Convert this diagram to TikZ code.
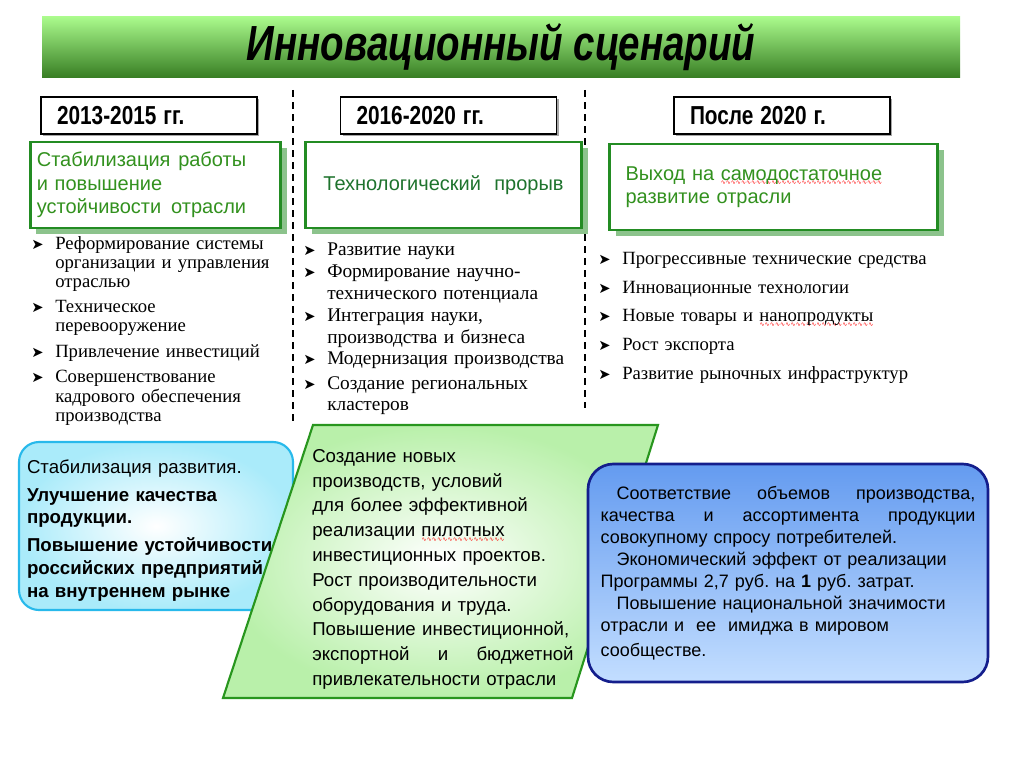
\documentclass[tikz,border=0pt]{standalone}
\usepackage{fontspec}
\setmainfont{Liberation Serif}
\setsansfont{Liberation Sans}
\newfontfamily\symbfont{DejaVu Sans}
\usepackage{graphicx}
\usetikzlibrary{positioning, shadows}

\definecolor{titletop}{RGB}{170,250,140}
\definecolor{titlebot}{RGB}{55,125,35}
\definecolor{headgreen}{RGB}{35,140,35}
\definecolor{headtext}{RGB}{50,145,30}
\definecolor{headdark}{RGB}{30,115,45}
\definecolor{headshadow}{RGB}{140,195,140}
\definecolor{cyanline}{RGB}{40,185,235}
\definecolor{cyanfill}{RGB}{170,235,250}
\definecolor{paraline}{RGB}{40,150,30}
\definecolor{parafill}{RGB}{185,240,170}
\definecolor{blueline}{RGB}{20,30,140}
\definecolor{bluetop}{RGB}{100,155,240}
\definecolor{bluebot}{RGB}{195,222,255}

\frenchspacing
\newcommand{\bul}{\makebox[18pt][l]{\symbfont\fontsize{11}{11}\selectfont ➤}}
\newcommand{\itm}[1]{\bul\parbox[t]{\dimexpr\hsize-18pt\relax}{\raggedright #1}}
\newcommand{\spell}[1]{\setbox0=\hbox{#1}\rlap{\raisebox{-3.4pt}[0pt][0pt]{\hbox to \wd0{\color{red}%
  \symbfont\fontsize{4.5}{4.5}\selectfont\xleaders\hbox{∿}\hfill}}}\box0}

\begin{document}
\begin{tikzpicture}[x=0.75pt, y=-0.75pt,
    titlebar/.style={minimum width=688.5pt, minimum height=45.75pt, inner sep=0pt,
      top color=titletop, bottom color=titlebot, font=\sffamily\bfseries\itshape\fontsize{37}{37}\selectfont},
    yearbox/.style={draw, line width=1pt, fill=white, minimum height=27.75pt, text width=138pt,
      inner xsep=12pt, align=left, font=\sffamily\bfseries\fontsize{19.5}{19.5}\selectfont,
      general shadow={fill=black!35, shadow xshift=1.5pt, shadow yshift=-1.5pt}},
    headbox/.style={draw=headgreen, line width=2.2pt, fill=white, minimum height=64.5pt,
      inner xsep=5pt, align=left, text=headtext, font=\sffamily\fontsize{15}{17.6}\selectfont,
      general shadow={fill=headshadow, shadow xshift=4.5pt, shadow yshift=-4.5pt}},
    sep/.style={line width=0.8pt, dash pattern=on 5pt off 4pt},
    itemA/.style={anchor=north west, inner sep=0pt, text width=200pt, align=left,
      font=\fontsize{14}{14.5}\selectfont},
    itemB/.style={anchor=north west, inner sep=0pt, text width=210pt, align=left,
      font=\fontsize{14.5}{16.3}\selectfont},
    itemC/.style={anchor=north west, inner sep=0pt, text width=280pt, align=left,
      font=\fontsize{14}{16}\selectfont},
    cyanbox/.style={draw=cyanline, line width=1.6pt, rounded corners=15pt, inner color=white,
      outer color=cyanfill, minimum height=126pt, text width=193.5pt, inner xsep=6pt,
      align=left, font=\sffamily\fontsize{14}{17}\selectfont},
    paraframe/.style={draw=paraline, line width=1.6pt, inner color=white, outer color=parafill},
    paratext/.style={anchor=north west, inner sep=0pt, text width=196pt, align=left,
      font=\sffamily\fontsize{14}{18.6}\selectfont},
    bluebox/.style={draw=blueline, line width=2pt, rounded corners=19pt, top color=bluetop,
      bottom color=bluebot, minimum height=163.5pt, text width=281pt, inner xsep=9.5pt,
      align=left, font=\sffamily\fontsize{13.5}{16.5}\selectfont}
  ]
  \useasboundingbox (0,0) rectangle (1024,767);

  % title
  \node[titlebar] (title) at (501,47.5) {\scalebox{0.78}[1]{Инновационный сценарий}};

  % column separators
  \draw[sep] (293,90) -- (293,425);
  \draw[sep] (585,90) -- (585,408);

  % periods
  \node[yearbox] (y1) at (149,115.5) {\scalebox{0.8}[1]{2013-2015 гг.}};
  \node[yearbox] (y2) at (448.5,115.5) {\scalebox{0.8}[1]{2016-2020 гг.}};
  \node[yearbox] (y3) at (782,115.5) {\scalebox{0.8}[1]{После 2020 г.}};

  % stage headings
  \node[headbox, text width=178pt] (h1) at (155.5,185)
    {\parbox{157pt}{Стабилизация\hfill работы\\ и повышение\\ устойчивости\hfill отрасли}};
  \node[headbox, text width=197pt, align=center, text=headdark] (h2) at (443.5,185) {Технологический\ \ прорыв};
  \node[headbox, text width=222pt, inner xsep=12pt] (h3) at (773.5,187)
    {Выход на \spell{самодостаточное}\\ развитие отрасли};

  % first column
  \node[itemA] (a1) at (31,236) {\itm{Реформирование системы\\ организации и управления\\ отраслью}};
  \node[itemA, below=6pt of a1.south west, anchor=north west] (a2) {\itm{Техническое\\ перевооружение}};
  \node[itemA, below=6pt of a2.south west, anchor=north west] (a3) {\itm{Привлечение инвестиций}};
  \node[itemA, below=6.5pt of a3.south west, anchor=north west] (a4) {\itm{Совершенствование\\ кадрового обеспечения\\ производства}};

  % second column
  \node[itemB] (b1) at (303,243) {\itm{Развитие науки}};
  \node[itemB, below=3.5pt of b1.south west, anchor=north west] (b2) {\itm{Формирование научно-\\технического потенциала}};
  \node[itemB, below=3.5pt of b2.south west, anchor=north west] (b3) {\itm{Интеграция науки,\\ производства и бизнеса}};
  \node[itemB, below=3.5pt of b3.south west, anchor=north west] (b4) {\itm{Модернизация производства}};
  \node[itemB, below=5pt of b4.south west, anchor=north west] (b5) {\itm{Создание региональных\\ кластеров}};

  % third column
  \node[itemC] (c1) at (598,252) {\itm{Прогрессивные технические средства}};
  \node[itemC, below=9pt of c1.south west, anchor=north west] (c2) {\itm{Инновационные технологии}};
  \node[itemC, below=9pt of c2.south west, anchor=north west] (c3) {\itm{Новые товары и \spell{нанопродукты}}};
  \node[itemC, below=9pt of c3.south west, anchor=north west] (c4) {\itm{Рост экспорта}};
  \node[itemC, below=9pt of c4.south west, anchor=north west] (c5) {\itm{Развитие рыночных инфраструктур}};

  % results
  \node[cyanbox] (r1) at (156,526) {\rule{0pt}{16.5pt}Стабилизация развития.\\[4pt]
    \textbf{Улучшение качества}\\ \textbf{продукции.}\\[4pt]
    \textbf{Повышение устойчивости}\\ \textbf{российских предприятий}\\ \textbf{на внутреннем рынке}};

  \coordinate (p1) at (313,425);
  \coordinate (p2) at (658,425);
  \coordinate (p3) at (572,698);
  \coordinate (p4) at (223,698);
  \path[paraframe] (p1) -- (p2) -- (p3) -- (p4) -- cycle;
  \node[paratext] (r2) at (312,449) {Создание новых\\ производств, условий\\ для более эффективной\\
    реализации \spell{пилотных}\\ инвестиционных проектов.\\ Рост производительности\\
    оборудования и труда.\\ Повышение инвестиционной,\\ экспортной\hfill и\hfill бюджетной\\
    привлекательности отрасли};

  \node[bluebox] (r3) at (788,573) {\hspace*{12pt}Соответствие\hfill объемов\hfill производства,\\
    качества\hfill и\hfill ассортимента\hfill продукции\\ совокупному спросу потребителей.\\
    \hspace*{12pt}Экономический эффект от реализации\\ Программы 2,7 руб. на \textbf{1} руб. затрат.\\
    \hspace*{12pt}Повышение национальной значимости\\ отрасли и\ \ ее\ \ имиджа в мировом\\[2pt]
    сообществе.};
\end{tikzpicture}
\end{document}
